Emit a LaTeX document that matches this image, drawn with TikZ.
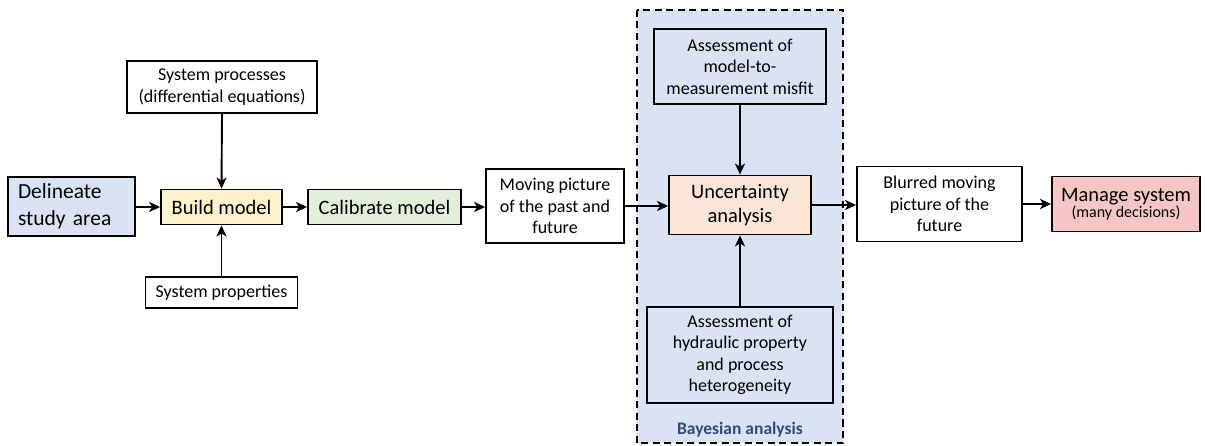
\documentclass[tikz,border=0pt]{standalone}
\usepackage{fontspec}
\setmainfont{Carlito}
\usetikzlibrary{arrows.meta}
\definecolor{lblue}{HTML}{DAE3F3}
\definecolor{lyellow}{HTML}{FFF2CC}
\definecolor{lgreen}{HTML}{E2F0D9}
\definecolor{lorange}{HTML}{FBE5D6}
\definecolor{lred}{HTML}{F6C6C6}
\definecolor{navy}{HTML}{2F4A80}
\tikzset{
  box/.style={draw=black, line width=1.8pt, rectangle, inner sep=0pt, align=center},
  big/.style={font=\fontsize{20.5}{23.5}\selectfont},
  small/.style={font=\fontsize{18}{21.5}\selectfont},
  conn/.style={line width=1.9pt, -{Stealth[length=11pt,width=10pt,inset=3pt]}},
}
\begin{document}
\begin{tikzpicture}[x=1pt,y=-1pt]
\useasboundingbox (0,0) rectangle (1208,446);
% Bayesian region
\draw[fill=lblue, line width=1.8pt, dash pattern=on 7pt off 4.5pt] (637,10) rectangle (843,443);
\node[text=navy, font=\fontsize{17.5}{20}\selectfont\bfseries] (bayes) at (740,430) {Bayesian analysis};

\node[box, font=\fontsize{21.5}{27}\selectfont, fill=lblue, minimum width=127pt, minimum height=59pt, align=left, text width=107pt] (delin) at (71.5,206.5) {Delineate\\study area};
\node[box, big, fill=lyellow, minimum width=121pt, minimum height=35pt] (build) at (221.5,207) {Build model};
\node[box, small, fill=white, minimum width=190pt, minimum height=52pt] (sysproc) at (222,87) {System processes\\(differential equations)};
\node[box, small, fill=white, minimum width=152pt, minimum height=31pt] (sysprop) at (221.5,292.5) {System properties};
\node[box, big, fill=lgreen, minimum width=153pt, minimum height=35pt] (calib) at (384.5,207) {Calibrate model};
\node[box, small, fill=white, minimum width=138pt, minimum height=74pt] (moving) at (555,206) {Moving picture\\of the past and\\future};
\node[box, small, fill=lblue, minimum width=172pt, minimum height=75pt] (misfit) at (740,66.5) {Assessment of\\model-to-\\measurement misfit};
\node[box, font=\fontsize{20.5}{24}\selectfont, fill=lorange, minimum width=142pt, minimum height=59pt] (uncert) at (740,205) {Uncertainty\\analysis};
\node[box, small, fill=lblue, minimum width=186pt, minimum height=96pt] (hydr) at (740,355) {Assessment of\\hydraulic property\\and process\\heterogeneity};
\node[box, small, fill=white, minimum width=165pt, minimum height=75pt] (blurred) at (939.5,204) {Blurred moving\\picture of the\\future};
\node[box, fill=lred, minimum width=148pt, minimum height=55pt] (manage) at (1126,204) {{\fontsize{20.5}{22}\selectfont Manage system}\\[0pt]{\fontsize{16}{18}\selectfont (many decisions)}};

\draw[conn] (delin.east |- build) -- (build.west);
\draw[conn] (build.east) -- (calib.west);
\draw[conn] (calib.east) -- (moving.west |- calib);
\draw[conn] (moving.east) -- (uncert.west |- moving);
\draw[conn] (uncert.east) -- (blurred.west |- uncert);
\draw[conn] (blurred.east) -- (manage.west |- blurred);
\draw[conn] (sysproc.south) -- (build.north);
\draw[conn] (sysprop.north) -- (build.south);
\draw[conn] (misfit.south) -- (uncert.north);
\draw[conn] (hydr.north) -- (uncert.south);
\end{tikzpicture}
\end{document}
